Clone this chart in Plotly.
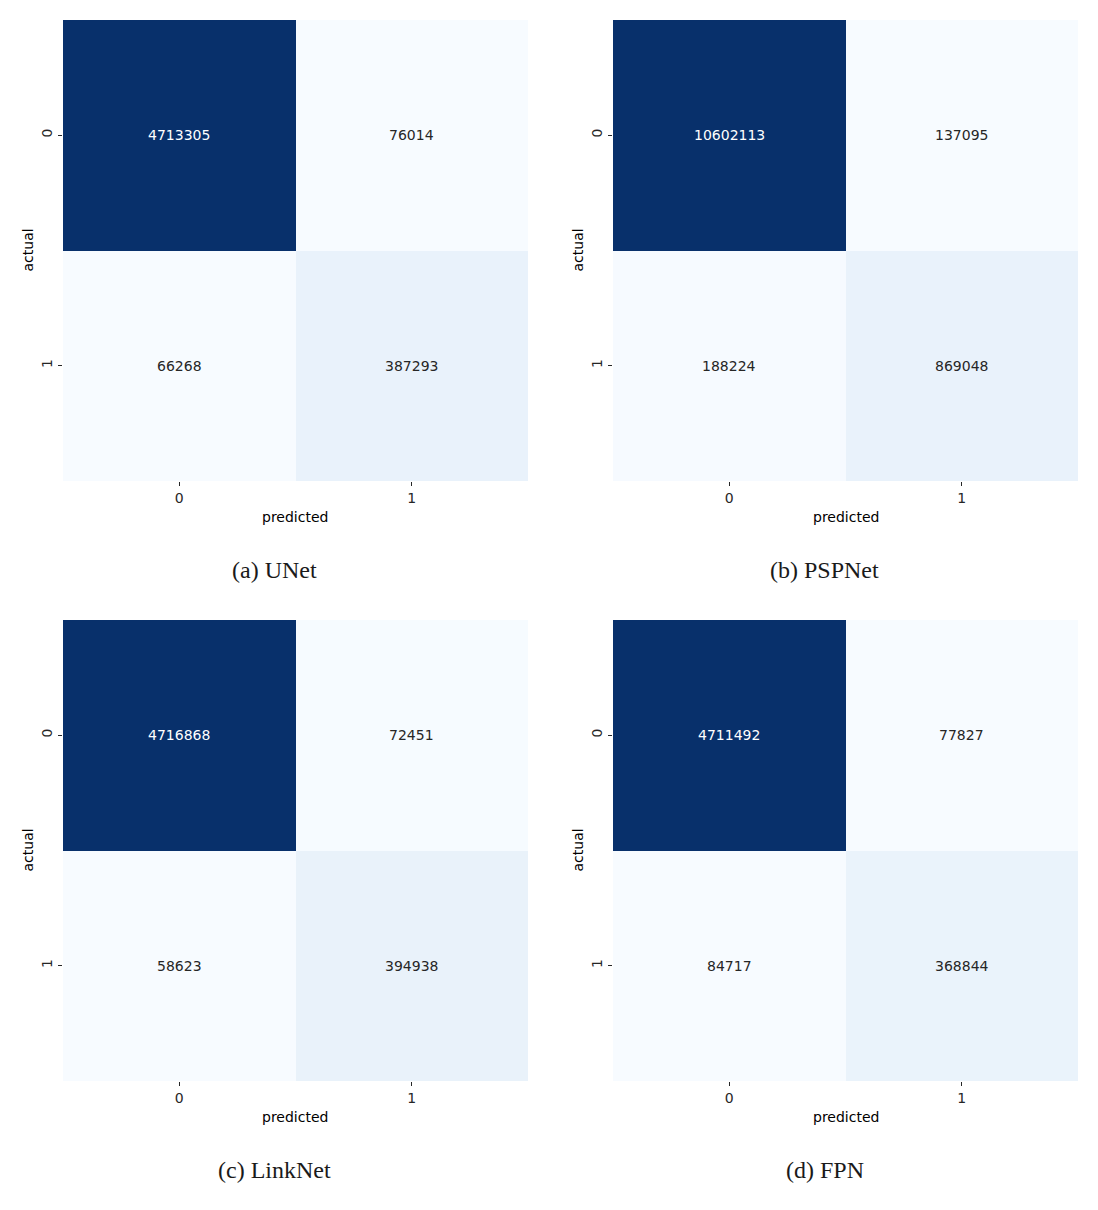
import plotly.graph_objects as go

OFF = 8  # default page body margin
W, H = 1098 - OFF, 1210 - OFF

labels = ["0", "1"]
titles = ["(a) UNet", "(b) PSPNet", "(c) LinkNet", "(d) FPN"]
unet = [[4713305, 76014], [66268, 387293]]
pspnet = [[10602113, 137095], [188224, 869048]]
linknet = [[4716868, 72451], [58623, 394938]]
fpn = [[4711492, 77827], [84717, 368844]]
matrices = [unet, pspnet, linknet, fpn]

blues = [
    [0.0, "#f7fbff"], [0.125, "#deebf7"], [0.25, "#c6dbef"], [0.375, "#9ecae1"],
    [0.5, "#6baed6"], [0.625, "#4292c6"], [0.75, "#2171b5"], [0.875, "#08519c"],
    [1.0, "#08306b"],
]

# pixel boxes (reference coords): (left, right, top, bottom)
boxes = [(63, 528, 20, 481), (613, 1078, 20, 481),
         (63, 528, 620, 1081), (613, 1078, 620, 1081)]
caption_x = [274.5, 824.5, 274.5, 824.5]


def px(v):
    return (v - OFF) / W


def py(v):
    return 1 - (v - OFF) / H


fig = go.Figure()
annotations = []
for i, (m, title, (l, r, t, b)) in enumerate(zip(matrices, titles, boxes)):
    n = i + 1
    xa = "x" if n == 1 else f"x{n}"
    ya = "y" if n == 1 else f"y{n}"
    zmin = min(min(row) for row in m)
    zmax = max(max(row) for row in m)
    fig.add_trace(go.Heatmap(
        z=m, x=labels, y=labels, xaxis=xa, yaxis=ya,
        colorscale=blues, zmin=zmin, zmax=zmax, showscale=False,
        hoverinfo="skip", xgap=0, ygap=0,
    ))
    axis_common = dict(
        ticks="outside", ticklen=4, tickwidth=1, tickcolor="#262626",
        showgrid=False, zeroline=False, showline=False,
        tickfont=dict(family="DejaVu Sans", size=14, color="#262626"),
        type="category",
    )
    xkey = "xaxis" if n == 1 else f"xaxis{n}"
    ykey = "yaxis" if n == 1 else f"yaxis{n}"
    fig.layout[xkey] = dict(domain=[px(l), px(r)], anchor=ya, **axis_common)
    fig.layout[ykey] = dict(domain=[py(b), py(t)], anchor=xa,
                            autorange="reversed", tickangle=-90, **axis_common)
    for ri, row in enumerate(m):
        for ci, v in enumerate(row):
            frac = (v - zmin) / (zmax - zmin)
            annotations.append(dict(
                x=labels[ci], y=labels[ri], xref=xa, yref=ya, text=str(v),
                showarrow=False, xanchor="center", yanchor="middle",
                font=dict(family="DejaVu Sans", size=14,
                          color="#ffffff" if frac > 0.5 else "#262626"),
            ))
    cx = (l + r) / 2
    annotations.append(dict(x=px(cx), y=py(b + 36), xref="paper", yref="paper",
                            text="predicted", showarrow=False,
                            xanchor="center", yanchor="middle",
                            font=dict(family="DejaVu Sans", size=14, color="#000000")))
    annotations.append(dict(x=px(l - 36), y=py((t + b) / 2), xref="paper", yref="paper",
                            text="actual", showarrow=False, textangle=-90,
                            xanchor="center", yanchor="middle",
                            font=dict(family="DejaVu Sans", size=14, color="#000000")))
    annotations.append(dict(x=px(caption_x[i]), y=py(b + 89), xref="paper", yref="paper",
                            text=title, showarrow=False,
                            xanchor="center", yanchor="middle",
                            font=dict(family="Liberation Serif", size=24, color="#1a1a1a")))

fig.update_layout(
    width=W, height=H, margin=dict(l=0, r=0, t=0, b=0),
    plot_bgcolor="white", paper_bgcolor="white",
    annotations=annotations, showlegend=False,
)

fig.write_html("out.html")
